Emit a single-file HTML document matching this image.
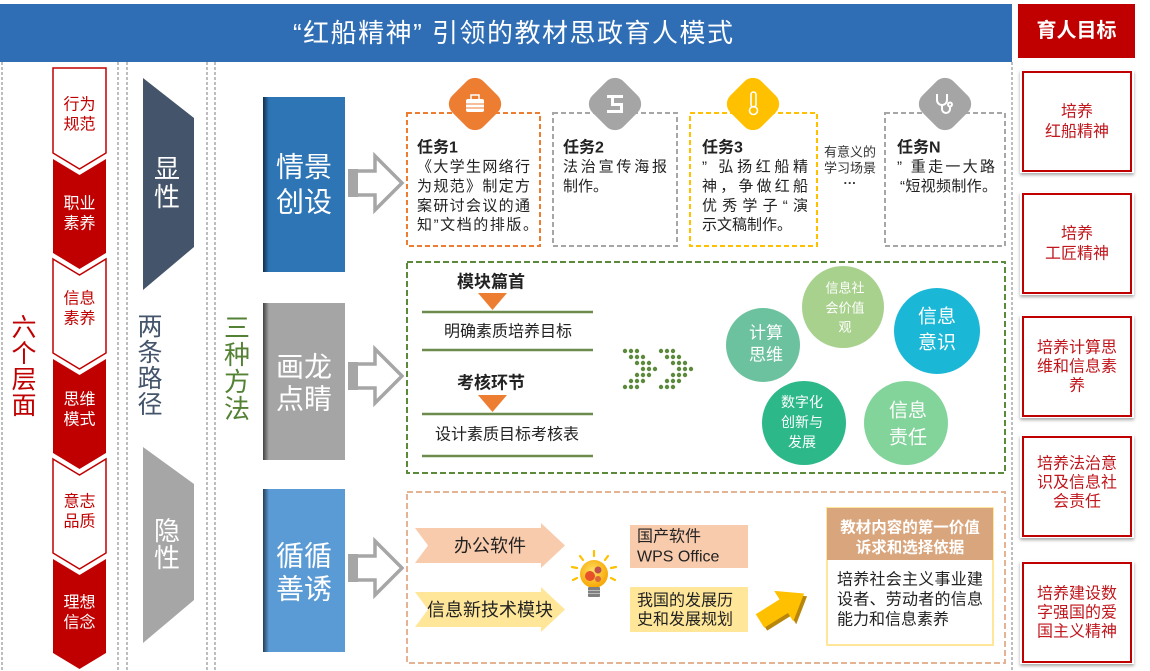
<!DOCTYPE html>
<html><head><meta charset="utf-8">
<style>
html,body{margin:0;padding:0;background:#fff;}
body{width:1150px;height:671px;overflow:hidden;position:relative;}
svg{position:absolute;left:0;top:0;display:block;}
svg text{font-family:"Liberation Sans","Noto Sans CJK SC",sans-serif;}
.c{text-anchor:middle;dominant-baseline:central;}
.l{dominant-baseline:central;}
</style></head>
<body>
<svg width="1150" height="671" viewBox="0 0 1150 671" xmlns="http://www.w3.org/2000/svg">
<defs>
  <linearGradient id="shade" x1="0" y1="0" x2="1" y2="0">
    <stop offset="0" stop-color="#000" stop-opacity="0.6"/>
    <stop offset="1" stop-color="#000" stop-opacity="0"/>
  </linearGradient>
  <radialGradient id="bulb" cx="0.45" cy="0.4" r="0.6">
    <stop offset="0" stop-color="#ffe066"/>
    <stop offset="1" stop-color="#f7a600"/>
  </radialGradient>
  <filter id="sh" x="-10%" y="-10%" width="120%" height="130%">
    <feDropShadow dx="0" dy="2" stdDeviation="1.5" flood-color="#000" flood-opacity="0.35"/>
  </filter>
</defs>

<!-- header -->
<rect x="0" y="4" width="1012" height="58" fill="#2f6eb5"/>
<text x="513" y="33" class="c" fill="#fff" font-size="26" textLength="440" lengthAdjust="spacing">“红船精神” 引领的教材思政育人模式</text>

<rect x="1018" y="4" width="117" height="54" fill="#c00000"/>
<text x="1076.5" y="31" class="c" fill="#fff" font-size="20" font-weight="bold">育人目标</text>

<!-- column dashed lines -->
<g stroke="#9a9a9a" stroke-width="1.3" stroke-dasharray="3 2" fill="none">
  <line x1="2" y1="62" x2="2" y2="671"/>
  <line x1="118" y1="62" x2="118" y2="671"/>
  <line x1="127" y1="62" x2="127" y2="671"/>
  <line x1="207" y1="62" x2="207" y2="671"/>
  <line x1="215" y1="62" x2="215" y2="671"/>
  <line x1="1012" y1="62" x2="1012" y2="671"/>
</g>

<!-- left: 六个层面 -->
<g fill="#c00000" font-size="25">
  <text x="24" y="328" class="c">六</text>
  <text x="24" y="354" class="c">个</text>
  <text x="24" y="380" class="c">层</text>
  <text x="24" y="406" class="c">面</text>
</g>

<!-- chevrons -->
<polygon points="53,68 106,68 106,153 79.5,169 53,153" fill="#fff" stroke="#c00000" stroke-width="1.5"/>
<polygon points="53,159 79.5,175 106,159 106,253 79.5,269 53,253" fill="#c00000"/>
<polygon points="53,259 79.5,275 106,259 106,353 79.5,369 53,353" fill="#fff" stroke="#c00000" stroke-width="1.5"/>
<polygon points="53,359 79.5,375 106,359 106,453 79.5,469 53,453" fill="#c00000"/>
<polygon points="53,459 79.5,475 106,459 106,553 79.5,569 53,553" fill="#fff" stroke="#c00000" stroke-width="1.5"/>
<polygon points="53,559 79.5,575 106,559 106,653 79.5,669 53,653" fill="#c00000"/>
<g font-size="16">
  <text x="79.5" y="105" class="c" fill="#c00000">行为</text>
  <text x="79.5" y="125" class="c" fill="#c00000">规范</text>
  <text x="79.5" y="204" class="c" fill="#fff">职业</text>
  <text x="79.5" y="224" class="c" fill="#fff">素养</text>
  <text x="79.5" y="299" class="c" fill="#c00000">信息</text>
  <text x="79.5" y="319" class="c" fill="#c00000">素养</text>
  <text x="79.5" y="400" class="c" fill="#fff">思维</text>
  <text x="79.5" y="420" class="c" fill="#fff">模式</text>
  <text x="79.5" y="502" class="c" fill="#c00000">意志</text>
  <text x="79.5" y="522" class="c" fill="#c00000">品质</text>
  <text x="79.5" y="603" class="c" fill="#fff">理想</text>
  <text x="79.5" y="623" class="c" fill="#fff">信念</text>
</g>

<!-- 两条路径 -->
<polygon points="143,78 194,118 194,247 143,290" fill="#44546a"/>
<text x="167" y="169" class="c" fill="#fff" font-size="26">显</text>
<text x="167" y="197" class="c" fill="#fff" font-size="26">性</text>
<polygon points="143,447 194,484 194,600 143,643" fill="#a6a6a6"/>
<text x="167" y="531" class="c" fill="#fff" font-size="26">隐</text>
<text x="167" y="558" class="c" fill="#fff" font-size="26">性</text>
<g fill="#44546a" font-size="25">
  <text x="150" y="327" class="c">两</text>
  <text x="150" y="353" class="c">条</text>
  <text x="150" y="379" class="c">路</text>
  <text x="150" y="405" class="c">径</text>
</g>

<!-- 三种方法 -->
<g fill="#548235" font-size="26">
  <text x="237" y="328" class="c">三</text>
  <text x="237" y="355" class="c">种</text>
  <text x="237" y="382" class="c">方</text>
  <text x="237" y="409" class="c">法</text>
</g>

<!-- method boxes -->
<rect x="263" y="97" width="82" height="175" fill="#2e75b6"/>
<rect x="263" y="97" width="6" height="175" fill="url(#shade)"/>
<text x="304" y="167" class="c" fill="#fff" font-size="28">情景</text>
<text x="304" y="202" class="c" fill="#fff" font-size="28">创设</text>

<rect x="263" y="303" width="82" height="157" fill="#a5a5a5"/>
<rect x="263" y="303" width="6" height="157" fill="url(#shade)"/>
<text x="304" y="367" class="c" fill="#fff" font-size="28">画龙</text>
<text x="304" y="399" class="c" fill="#fff" font-size="28">点睛</text>

<rect x="263" y="489" width="82" height="163" fill="#5b9bd5"/>
<rect x="263" y="489" width="6" height="163" fill="url(#shade)"/>
<text x="304" y="556" class="c" fill="#fff" font-size="28">循循</text>
<text x="304" y="589" class="c" fill="#fff" font-size="28">善诱</text>

<!-- hollow arrows -->
<g fill="#fff" stroke="#a6a6a6" stroke-width="3.5" stroke-linejoin="miter">
  <polygon points="350,171 375,171 375,156 402,183 375,210 375,195 350,195"/>
  <polygon points="350,364 375,364 375,349 402,376 375,403 375,388 350,388"/>
  <polygon points="350,556 375,556 375,541 402,568 375,595 375,580 350,580"/>
</g>
<g fill="#a6a6a6">
  <rect x="348" y="169" width="10" height="28"/>
  <rect x="348" y="362" width="10" height="28"/>
  <rect x="348" y="554" width="10" height="28"/>
</g>

<!-- task boxes -->
<g fill="none" stroke-width="2" stroke-dasharray="5 3">
  <rect x="407" y="113" width="133" height="133" stroke="#ed7d31"/>
  <rect x="553" y="113" width="124" height="133" stroke="#a6a6a6"/>
  <rect x="690" y="113" width="127" height="133" stroke="#ffc000"/>
  <rect x="885" y="113" width="120" height="133" stroke="#a6a6a6"/>
</g>
<!-- diamonds -->
<rect x="-22" y="-22" width="44" height="44" rx="12" fill="#ed7d31" transform="translate(475,104) rotate(45)"/>
<rect x="-22" y="-22" width="44" height="44" rx="12" fill="#a5a5a5" transform="translate(615,104) rotate(45)"/>
<rect x="-22" y="-22" width="44" height="44" rx="12" fill="#ffc000" transform="translate(753,104) rotate(45)"/>
<rect x="-22" y="-22" width="44" height="44" rx="12" fill="#a5a5a5" transform="translate(945,104) rotate(45)"/>
<!-- icons -->
<g>
  <rect x="466" y="99" width="18" height="13" rx="2" fill="#fff"/>
  <rect x="471" y="95" width="8" height="5" fill="none" stroke="#fff" stroke-width="1.5"/>
  <line x1="466" y1="104" x2="484" y2="104" stroke="#ed7d31" stroke-width="1"/>
  <line x1="466" y1="108" x2="484" y2="108" stroke="#ed7d31" stroke-width="1"/>
</g>
<g fill="#fff">
  <rect x="607" y="95" width="16" height="3"/>
  <rect x="611" y="98" width="3" height="6"/>
  <rect x="611" y="103" width="12" height="3"/>
  <rect x="620" y="103" width="3" height="9"/>
  <rect x="607" y="110" width="16" height="3"/>
</g>
<g fill="none" stroke="#fff" stroke-width="1.6">
  <rect x="751" y="92" width="5" height="15" rx="2.5"/>
  <circle cx="753.5" cy="110.5" r="4"/>
</g>
<g fill="none" stroke="#fff" stroke-width="2">
  <path d="M937 94 v6 a5 5 0 0 0 10 0 v-6"/>
  <path d="M942 105 v4 a4 4 0 0 0 8 0 v-2"/>
  <circle cx="950" cy="104.5" r="2"/>
</g>

<!-- task texts -->
<g fill="#222" font-size="15">
  <text x="417" y="148" class="l" font-weight="bold" font-size="16">任务1</text>
  <text x="417" y="167" class="l" textLength="113" lengthAdjust="spacing">《大学生网络行</text>
  <text x="417" y="186.5" class="l" textLength="113" lengthAdjust="spacing">为规范》制定方</text>
  <text x="417" y="206" class="l" textLength="113" lengthAdjust="spacing">案研讨会议的通</text>
  <text x="417" y="225" class="l" textLength="121" lengthAdjust="spacing">知”文档的排版。</text>

  <text x="563" y="148" class="l" font-weight="bold" font-size="16">任务2</text>
  <text x="563" y="167" class="l" textLength="104" lengthAdjust="spacing">法治宣传海报</text>
  <text x="563" y="186.5" class="l">制作。</text>

  <text x="702" y="148" class="l" font-weight="bold" font-size="16">任务3</text>
  <text x="702" y="167" class="l" textLength="106" lengthAdjust="spacing">” 弘扬红船精</text>
  <text x="702" y="186.5" class="l" textLength="106" lengthAdjust="spacing">神，争做红船</text>
  <text x="702" y="206" class="l" textLength="106" lengthAdjust="spacing">优秀学子“演</text>
  <text x="702" y="225" class="l">示文稿制作。</text>

  <text x="897" y="148" class="l" font-weight="bold" font-size="16">任务N</text>
  <text x="897" y="167" class="l" textLength="98" lengthAdjust="spacing">” 重走一大路</text>
  <text x="900" y="186.5" class="l" textLength="97" lengthAdjust="spacing">“短视频制作。</text>
</g>
<g fill="#333" font-size="13">
  <text x="850" y="152" class="c">有意义的</text>
  <text x="850" y="168" class="c">学习场景</text>
  <text x="850" y="183" class="c" font-weight="bold">···</text>
</g>

<!-- middle green box -->
<rect x="407" y="262" width="598" height="211" fill="none" stroke="#5a8a3a" stroke-width="2" stroke-dasharray="6 3"/>
<text x="491" y="282" class="c" fill="#222" font-size="17" font-weight="bold">模块篇首</text>
<polygon points="478,293 507,293 492.5,310" fill="#ed7d31"/>
<line x1="422" y1="312" x2="593" y2="312" stroke="#6d8b4c" stroke-width="2.5"/>
<text x="508" y="332" class="c" fill="#222" font-size="16">明确素质培养目标</text>
<line x1="422" y1="350" x2="593" y2="350" stroke="#6d8b4c" stroke-width="2.5"/>
<text x="491" y="383" class="c" fill="#222" font-size="17" font-weight="bold">考核环节</text>
<polygon points="478,395 507,395 492.5,412" fill="#ed7d31"/>
<line x1="422" y1="414" x2="593" y2="414" stroke="#6d8b4c" stroke-width="2.5"/>
<text x="507" y="435" class="c" fill="#222" font-size="16">设计素质目标考核表</text>
<line x1="422" y1="456" x2="593" y2="456" stroke="#6d8b4c" stroke-width="2.5"/>

<!-- dotted chevrons -->
<g fill="#5b8a3c">
  <circle cx="625" cy="351" r="2.2"/><circle cx="631" cy="351" r="2.2"/><circle cx="637" cy="351" r="2.2"/>
  <circle cx="631" cy="357" r="2.2"/><circle cx="637" cy="357" r="2.2"/><circle cx="643" cy="357" r="2.2"/>
  <circle cx="637" cy="363" r="2.2"/><circle cx="643" cy="363" r="2.2"/><circle cx="649" cy="363" r="2.2"/>
  <circle cx="643" cy="369" r="2.2"/><circle cx="649" cy="369" r="2.2"/><circle cx="655" cy="369" r="2.2"/>
  <circle cx="637" cy="375" r="2.2"/><circle cx="643" cy="375" r="2.2"/><circle cx="649" cy="375" r="2.2"/>
  <circle cx="631" cy="381" r="2.2"/><circle cx="637" cy="381" r="2.2"/><circle cx="643" cy="381" r="2.2"/>
  <circle cx="625" cy="387" r="2.2"/><circle cx="631" cy="387" r="2.2"/><circle cx="637" cy="387" r="2.2"/>

  <circle cx="661" cy="351" r="2.2"/><circle cx="667" cy="351" r="2.2"/><circle cx="673" cy="351" r="2.2"/>
  <circle cx="667" cy="357" r="2.2"/><circle cx="673" cy="357" r="2.2"/><circle cx="679" cy="357" r="2.2"/>
  <circle cx="673" cy="363" r="2.2"/><circle cx="679" cy="363" r="2.2"/><circle cx="685" cy="363" r="2.2"/>
  <circle cx="679" cy="369" r="2.2"/><circle cx="685" cy="369" r="2.2"/><circle cx="691" cy="369" r="2.2"/>
  <circle cx="673" cy="375" r="2.2"/><circle cx="679" cy="375" r="2.2"/><circle cx="685" cy="375" r="2.2"/>
  <circle cx="667" cy="381" r="2.2"/><circle cx="673" cy="381" r="2.2"/><circle cx="679" cy="381" r="2.2"/>
  <circle cx="661" cy="387" r="2.2"/><circle cx="667" cy="387" r="2.2"/><circle cx="673" cy="387" r="2.2"/>
</g>

<!-- circles -->
<circle cx="843" cy="307" r="41" fill="#a9d18e"/>
<circle cx="763" cy="345" r="37" fill="#6cc29f"/>
<circle cx="937" cy="331" r="43" fill="#1ab8d6"/>
<circle cx="804" cy="423" r="42" fill="#2db88a"/>
<circle cx="906" cy="423" r="42" fill="#83d49b"/>
<g fill="#fff">
  <text x="766" y="333" class="c" font-size="17">计算</text>
  <text x="766" y="355" class="c" font-size="17">思维</text>
  <text x="845" y="288" class="c" font-size="13">信息社</text>
  <text x="845" y="308" class="c" font-size="13">会价值</text>
  <text x="845" y="327" class="c" font-size="13">观</text>
  <text x="937" y="317" class="c" font-size="19">信息</text>
  <text x="937" y="343" class="c" font-size="19">意识</text>
  <text x="802" y="402" class="c" font-size="14">数字化</text>
  <text x="802" y="422" class="c" font-size="14">创新与</text>
  <text x="802" y="442" class="c" font-size="14">发展</text>
  <text x="908" y="411" class="c" font-size="19">信息</text>
  <text x="908" y="438" class="c" font-size="19">责任</text>
</g>

<!-- bottom peach box -->
<rect x="407" y="492" width="598" height="171" fill="none" stroke="#e4b394" stroke-width="2" stroke-dasharray="6 3"/>
<polygon points="415,528 541,528 541,523 565,545.5 541,568 541,563 415,563 428,545.5" fill="#f8cbad"/>
<text x="490" y="546" class="c" fill="#222" font-size="18">办公软件</text>
<polygon points="415,592 541,592 541,587 565,609.5 541,632 541,627 415,627 428,609.5" fill="#ffe699"/>
<text x="490" y="610" class="c" fill="#222" font-size="18">信息新技术模块</text>

<!-- lightbulb -->
<g stroke="#ffc000" stroke-width="2.2" stroke-linecap="round">
  <line x1="594" y1="551" x2="594" y2="556"/>
  <line x1="580" y1="556" x2="583" y2="560"/>
  <line x1="608" y1="556" x2="605" y2="560"/>
  <line x1="572" y1="567" x2="577" y2="568"/>
  <line x1="616" y1="567" x2="611" y2="568"/>
  <line x1="573" y1="580" x2="577" y2="578"/>
  <line x1="615" y1="580" x2="611" y2="578"/>
</g>
<circle cx="594" cy="574" r="14" fill="url(#bulb)"/>
<circle cx="590" cy="576" r="5" fill="#e8502a"/>
<circle cx="598" cy="570" r="3.5" fill="#c0504d"/>
<circle cx="598" cy="579" r="3" fill="#d9683a"/>
<rect x="588" y="587" width="12" height="10" rx="1" fill="#7f7f7f"/>
<line x1="588" y1="590.5" x2="600" y2="590.5" stroke="#bbb" stroke-width="1"/>
<line x1="588" y1="593.5" x2="600" y2="593.5" stroke="#bbb" stroke-width="1"/>

<rect x="630" y="525" width="118" height="43" fill="#f8cbad"/>
<text x="637" y="537" class="l" fill="#222" font-size="16">国产软件</text>
<text x="637" y="557" class="l" fill="#222" font-size="16">WPS Office</text>
<rect x="630" y="587" width="118" height="45" fill="#ffe699"/>
<text x="637" y="601" class="l" fill="#222" font-size="16">我国的发展历</text>
<text x="637" y="620" class="l" fill="#222" font-size="16">史和发展规划</text>

<!-- 3D arrow -->
<g transform="translate(760,621) rotate(-32)">
  <polygon points="0,-8 28,-8 28,-18 52,0 28,18 28,8 0,8" fill="#b8860b" transform="translate(1,4)"/>
  <polygon points="0,-8 28,-8 28,-18 52,0 28,18 28,8 0,8" fill="#ffc000"/>
</g>

<!-- content box -->
<rect x="827" y="508" width="166" height="137" fill="#fff" stroke="#ffe699" stroke-width="2"/>
<rect x="827" y="508" width="166" height="52" fill="#d9a57c"/>
<text x="910" y="528" class="c" fill="#fff" font-size="15.5" font-weight="bold">教材内容的第一价值</text>
<text x="910" y="548" class="c" fill="#fff" font-size="15.5" font-weight="bold">诉求和选择依据</text>
<text x="837" y="580" class="l" fill="#222" font-size="16" textLength="146" lengthAdjust="spacing">培养社会主义事业建</text>
<text x="837" y="600" class="l" fill="#222" font-size="16" textLength="146" lengthAdjust="spacing">设者、劳动者的信息</text>
<text x="837" y="620" class="l" fill="#222" font-size="16">能力和信息素养</text>

<!-- right goal boxes -->
<g>
  <rect x="1020" y="70" width="114" height="103" fill="#fff" filter="url(#sh)"/>
  <rect x="1023" y="72" width="108" height="99" fill="none" stroke="#c00000" stroke-width="2"/>
  <rect x="1020" y="192" width="114" height="103" fill="#fff" filter="url(#sh)"/>
  <rect x="1023" y="194" width="108" height="99" fill="none" stroke="#c00000" stroke-width="2"/>
  <rect x="1020" y="315" width="114" height="103" fill="#fff" filter="url(#sh)"/>
  <rect x="1023" y="317" width="108" height="99" fill="none" stroke="#c00000" stroke-width="2"/>
  <rect x="1020" y="435" width="114" height="103" fill="#fff" filter="url(#sh)"/>
  <rect x="1023" y="437" width="108" height="99" fill="none" stroke="#c00000" stroke-width="2"/>
  <rect x="1020" y="561" width="114" height="103" fill="#fff" filter="url(#sh)"/>
  <rect x="1023" y="563" width="108" height="99" fill="none" stroke="#c00000" stroke-width="2"/>
</g>
<g fill="#c0161c" font-size="16">
  <text x="1077" y="112" class="c">培养</text>
  <text x="1077" y="132" class="c">红船精神</text>
  <text x="1077" y="234" class="c">培养</text>
  <text x="1077" y="254" class="c">工匠精神</text>
  <text x="1077" y="348" class="c">培养计算思</text>
  <text x="1077" y="367" class="c">维和信息素</text>
  <text x="1077" y="386" class="c">养</text>
  <text x="1077" y="464" class="c">培养法治意</text>
  <text x="1077" y="483" class="c">识及信息社</text>
  <text x="1077" y="502" class="c">会责任</text>
  <text x="1077" y="594" class="c">培养建设数</text>
  <text x="1077" y="613" class="c">字强国的爱</text>
  <text x="1077" y="632" class="c">国主义精神</text>
</g>
</svg>
</body></html>
